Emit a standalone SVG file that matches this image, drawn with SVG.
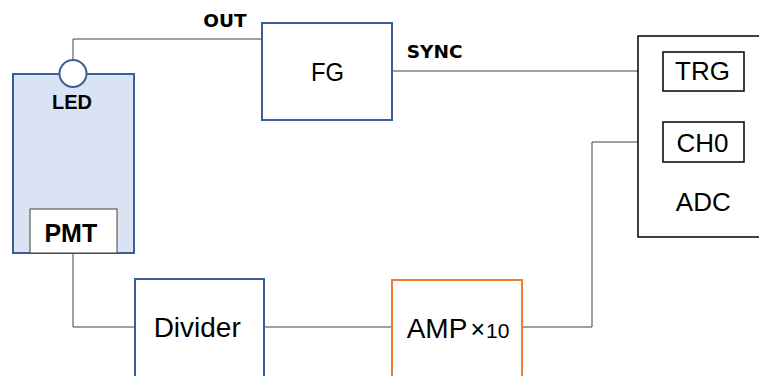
<svg xmlns="http://www.w3.org/2000/svg" width="759" height="376" viewBox="0 0 759 376">
<style>
.wire{fill:none;stroke:#404040;stroke-width:1}
.blue{fill:#ffffff;stroke:#3a5f98;stroke-width:2}
.blk{fill:#ffffff;stroke:#000000;stroke-width:1.5}
.t{font-family:"Liberation Sans",Arial,sans-serif;fill:#000000}
.b{font-family:"Liberation Sans",Arial,sans-serif;font-weight:bold;fill:#000000}
.lb{font-family:"DejaVu Sans",Verdana,sans-serif;font-weight:bold;fill:#000000}
</style>
<rect width="759" height="376" fill="#ffffff"/>
<g id="connectors">
<polyline class="wire" points="73,60 73,39 262,39"/>
<line class="wire" x1="392" y1="71" x2="663" y2="71"/>
<polyline class="wire" points="663,142 592,142 592,327 522,327"/>
<polyline class="wire" points="73,253 73,327 135,327"/>
<line class="wire" x1="264" y1="327" x2="392" y2="327"/>
</g>
<g id="led-pmt">
<rect x="13" y="74" width="121" height="179" fill="#dae3f3" stroke="#3a5f98" stroke-width="2"/>
<circle cx="73" cy="73.5" r="13.5" fill="#ffffff" stroke="#3a5f98" stroke-width="2"/>
<text class="b" x="72" y="109.3" font-size="20" text-anchor="middle">LED</text>
</g>
<g id="pmt">
<rect x="30" y="209" width="87" height="44" fill="#ffffff" stroke="#404040" stroke-width="1"/>
<text class="b" x="70.8" y="241.7" font-size="25" text-anchor="middle">PMT</text>
</g>
<g id="fg">
<rect class="blue" x="262" y="23" width="130" height="97"/>
<text class="t" x="327.5" y="80.7" font-size="26" text-anchor="middle" textLength="33" lengthAdjust="spacingAndGlyphs">FG</text>
</g>
<g id="labels">
<text class="lb" x="203.3" y="26.7" font-size="18.5">OUT</text>
<text class="lb" x="406.7" y="58.3" font-size="18.5">SYNC</text>
</g>
<g id="adc">
<rect class="blk" x="638" y="36" width="130" height="201"/>
<text class="t" x="703.3" y="210.7" font-size="26" text-anchor="middle">ADC</text>
</g>
<g id="trg">
<rect class="blk" x="663" y="52" width="81" height="39"/>
<text class="t" x="702.5" y="80" font-size="26" text-anchor="middle">TRG</text>
</g>
<g id="ch0">
<rect class="blk" x="663" y="122" width="81" height="40"/>
<text class="t" x="702.5" y="151.7" font-size="26" text-anchor="middle">CH0</text>
</g>
<g id="divider">
<rect class="blue" x="135" y="279" width="129" height="110"/>
<text class="t" x="197.2" y="337.3" font-size="28" text-anchor="middle">Divider</text>
</g>
<g id="amp">
<rect x="392" y="280" width="130" height="110" fill="#ffffff" stroke="#ed7d31" stroke-width="2"/>
<text class="t" x="406.7" y="338.3" font-size="28">AMP<tspan font-size="25" dx="3">×</tspan><tspan font-size="21" dx="1">10</tspan></text>
</g>
</svg>
